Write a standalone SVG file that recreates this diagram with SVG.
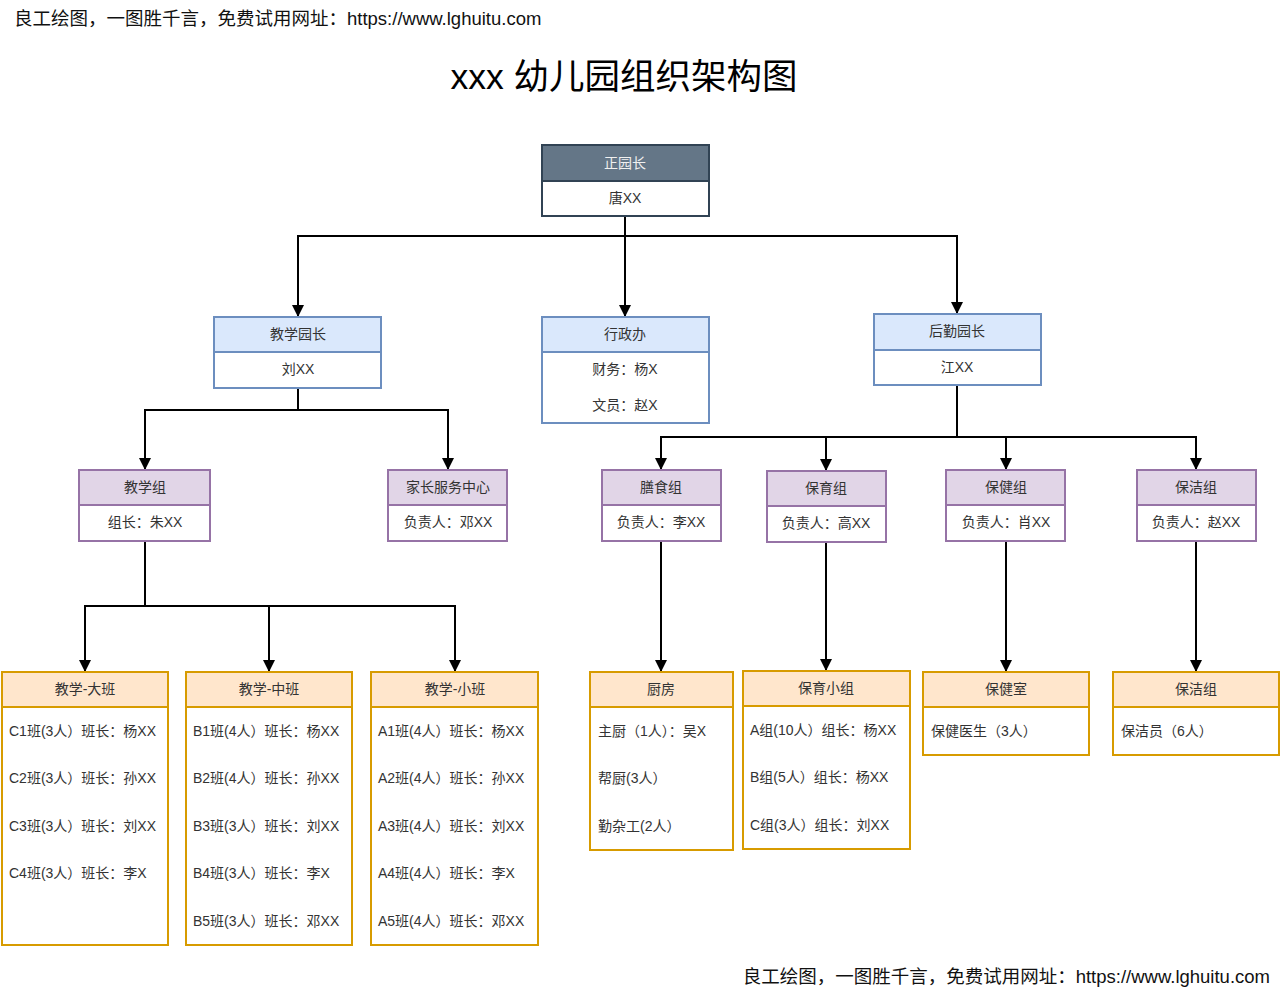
<svg xmlns="http://www.w3.org/2000/svg" width="1280" height="994" viewBox="0 0 1280 994">
<defs>
<style>
text{font-family:"Liberation Sans","Noto Sans CJK SC",sans-serif;font-size:14px;fill:#333;dominant-baseline:central}
.c{text-anchor:middle}
.blueH{fill:#dae8fc;stroke:#6c8ebf;stroke-width:2}
.blueB{fill:#fff;stroke:#6c8ebf;stroke-width:2}
.darkH{fill:#647687;stroke:#314354;stroke-width:2}
.darkB{fill:#fff;stroke:#314354;stroke-width:2}
.purH{fill:#e1d5e7;stroke:#9673a6;stroke-width:2}
.purB{fill:#fff;stroke:#9673a6;stroke-width:2}
.orH{fill:#ffe6cc;stroke:#d79b00;stroke-width:2}
.orB{fill:#fff;stroke:#d79b00;stroke-width:2}
.edge{fill:none;stroke:#000;stroke-width:2;marker-end:url(#arr)}
.wm{font-size:18.5px;fill:#111}
</style>
<marker id="arr" markerUnits="userSpaceOnUse" markerWidth="12" markerHeight="12" refX="10" refY="5" orient="auto" viewBox="0 0 10 10">
<path d="M0,0 L10,5 L0,10 Z" fill="#000"/>
</marker>
</defs>
<rect width="1280" height="994" fill="#fff"/>
<text class="wm" x="14" y="18">良工绘图，一图胜千言，免费试用网址：https://www.lghuitu.com</text>
<text class="wm" x="1270" y="976" text-anchor="end">良工绘图，一图胜千言，免费试用网址：https://www.lghuitu.com</text>
<text x="624" y="77" class="c" style="font-size:35.5px;fill:#000">xxx 幼儿园组织架构图</text>

<g id="connectors">
<path class="edge" d="M625,216 V236 H298 V317"/>
<path class="edge" d="M625,216 V317"/>
<path class="edge" d="M625,236 H957 V314"/>
<path class="edge" d="M298,388 V410 H145 V470"/>
<path class="edge" d="M298,410 H448 V470"/>
<path class="edge" d="M957,385 V437 H661 V470"/>
<path class="edge" d="M826,437 V471"/>
<path class="edge" d="M957,437 H1006 V470"/>
<path class="edge" d="M1006,437 H1196 V470"/>
<path class="edge" d="M145,541 V606 H85 V672"/>
<path class="edge" d="M145,606 H269 V672"/>
<path class="edge" d="M269,606 H455 V672"/>
<path class="edge" d="M661,541 V672"/>
<path class="edge" d="M826,542 V671"/>
<path class="edge" d="M1006,541 V672"/>
<path class="edge" d="M1196,541 V672"/>
</g>

<g id="n-principal">
<rect class="darkB" x="542" y="145" width="167" height="71"/>
<rect class="darkH" x="542" y="145" width="167" height="36"/>
<text class="c" x="625" y="163" style="fill:#f0f0f0">正园长</text>
<text class="c" x="625" y="198">唐XX</text>
</g>

<g id="n-teach-vp">
<rect class="blueB" x="214" y="317" width="167" height="71"/>
<rect class="blueH" x="214" y="317" width="167" height="35"/>
<text class="c" x="298" y="334">教学园长</text>
<text class="c" x="298" y="369">刘XX</text>
</g>

<g id="n-admin">
<rect class="blueB" x="542" y="317" width="167" height="106"/>
<rect class="blueH" x="542" y="317" width="167" height="35"/>
<text class="c" x="625" y="334">行政办</text>
<text class="c" x="625" y="369">财务：杨X</text>
<text class="c" x="625" y="405">文员：赵X</text>
</g>

<g id="n-logistics-vp">
<rect class="blueB" x="874" y="314" width="167" height="71"/>
<rect class="blueH" x="874" y="314" width="167" height="36"/>
<text class="c" x="957" y="331">后勤园长</text>
<text class="c" x="957" y="367">江XX</text>
</g>

<g id="n-teach-group">
<rect class="purB" x="79" y="470" width="131" height="71"/>
<rect class="purH" x="79" y="470" width="131" height="35"/>
<text class="c" x="145" y="487">教学组</text>
<text class="c" x="145" y="522">组长：朱XX</text>
</g>

<g id="n-parent">
<rect class="purB" x="388" y="470" width="119" height="71"/>
<rect class="purH" x="388" y="470" width="119" height="35"/>
<text class="c" x="448" y="487">家长服务中心</text>
<text class="c" x="448" y="522">负责人：邓XX</text>
</g>

<g id="n-meal">
<rect class="purB" x="602" y="470" width="119" height="71"/>
<rect class="purH" x="602" y="470" width="119" height="35"/>
<text class="c" x="661" y="487">膳食组</text>
<text class="c" x="661" y="522">负责人：李XX</text>
</g>

<g id="n-care">
<rect class="purB" x="767" y="471" width="119" height="71"/>
<rect class="purH" x="767" y="471" width="119" height="35"/>
<text class="c" x="826" y="488">保育组</text>
<text class="c" x="826" y="523">负责人：高XX</text>
</g>

<g id="n-health">
<rect class="purB" x="946" y="470" width="119" height="71"/>
<rect class="purH" x="946" y="470" width="119" height="35"/>
<text class="c" x="1006" y="487">保健组</text>
<text class="c" x="1006" y="522">负责人：肖XX</text>
</g>

<g id="n-clean">
<rect class="purB" x="1137" y="470" width="119" height="71"/>
<rect class="purH" x="1137" y="470" width="119" height="35"/>
<text class="c" x="1196" y="487">保洁组</text>
<text class="c" x="1196" y="522">负责人：赵XX</text>
</g>

<g id="n-big">
<rect class="orB" x="2" y="672" width="166" height="273"/>
<rect class="orH" x="2" y="672" width="166" height="35"/>
<text class="c" x="85" y="689">教学-大班</text>
<text x="9" y="731">C1班(3人）班长：杨XX</text>
<text x="9" y="778">C2班(3人）班长：孙XX</text>
<text x="9" y="826">C3班(3人）班长：刘XX</text>
<text x="9" y="873">C4班(3人）班长：李X</text>
</g>

<g id="n-mid">
<rect class="orB" x="186" y="672" width="166" height="273"/>
<rect class="orH" x="186" y="672" width="166" height="35"/>
<text class="c" x="269" y="689">教学-中班</text>
<text x="193" y="731">B1班(4人）班长：杨XX</text>
<text x="193" y="778">B2班(4人）班长：孙XX</text>
<text x="193" y="826">B3班(3人）班长：刘XX</text>
<text x="193" y="873">B4班(3人）班长：李X</text>
<text x="193" y="921">B5班(3人）班长：邓XX</text>
</g>

<g id="n-small">
<rect class="orB" x="371" y="672" width="167" height="273"/>
<rect class="orH" x="371" y="672" width="167" height="35"/>
<text class="c" x="455" y="689">教学-小班</text>
<text x="378" y="731">A1班(4人）班长：杨XX</text>
<text x="378" y="778">A2班(4人）班长：孙XX</text>
<text x="378" y="826">A3班(4人）班长：刘XX</text>
<text x="378" y="873">A4班(4人）班长：李X</text>
<text x="378" y="921">A5班(4人）班长：邓XX</text>
</g>

<g id="n-kitchen">
<rect class="orB" x="590" y="672" width="143" height="178"/>
<rect class="orH" x="590" y="672" width="143" height="35"/>
<text class="c" x="661" y="689">厨房</text>
<text x="598" y="731">主厨（1人）：吴X</text>
<text x="598" y="778">帮厨(3人）</text>
<text x="598" y="826">勤杂工(2人）</text>
</g>

<g id="n-care-team">
<rect class="orB" x="743" y="671" width="167" height="178"/>
<rect class="orH" x="743" y="671" width="167" height="35"/>
<text class="c" x="826" y="688">保育小组</text>
<text x="750" y="730">A组(10人）组长：杨XX</text>
<text x="750" y="777">B组(5人）组长：杨XX</text>
<text x="750" y="825">C组(3人）组长：刘XX</text>
</g>

<g id="n-clinic">
<rect class="orB" x="923" y="672" width="166" height="83"/>
<rect class="orH" x="923" y="672" width="166" height="35"/>
<text class="c" x="1006" y="689">保健室</text>
<text x="931" y="731">保健医生（3人）</text>
</g>

<g id="n-clean-team">
<rect class="orB" x="1113" y="672" width="166" height="83"/>
<rect class="orH" x="1113" y="672" width="166" height="35"/>
<text class="c" x="1196" y="689">保洁组</text>
<text x="1121" y="731">保洁员（6人）</text>
</g>
</svg>
